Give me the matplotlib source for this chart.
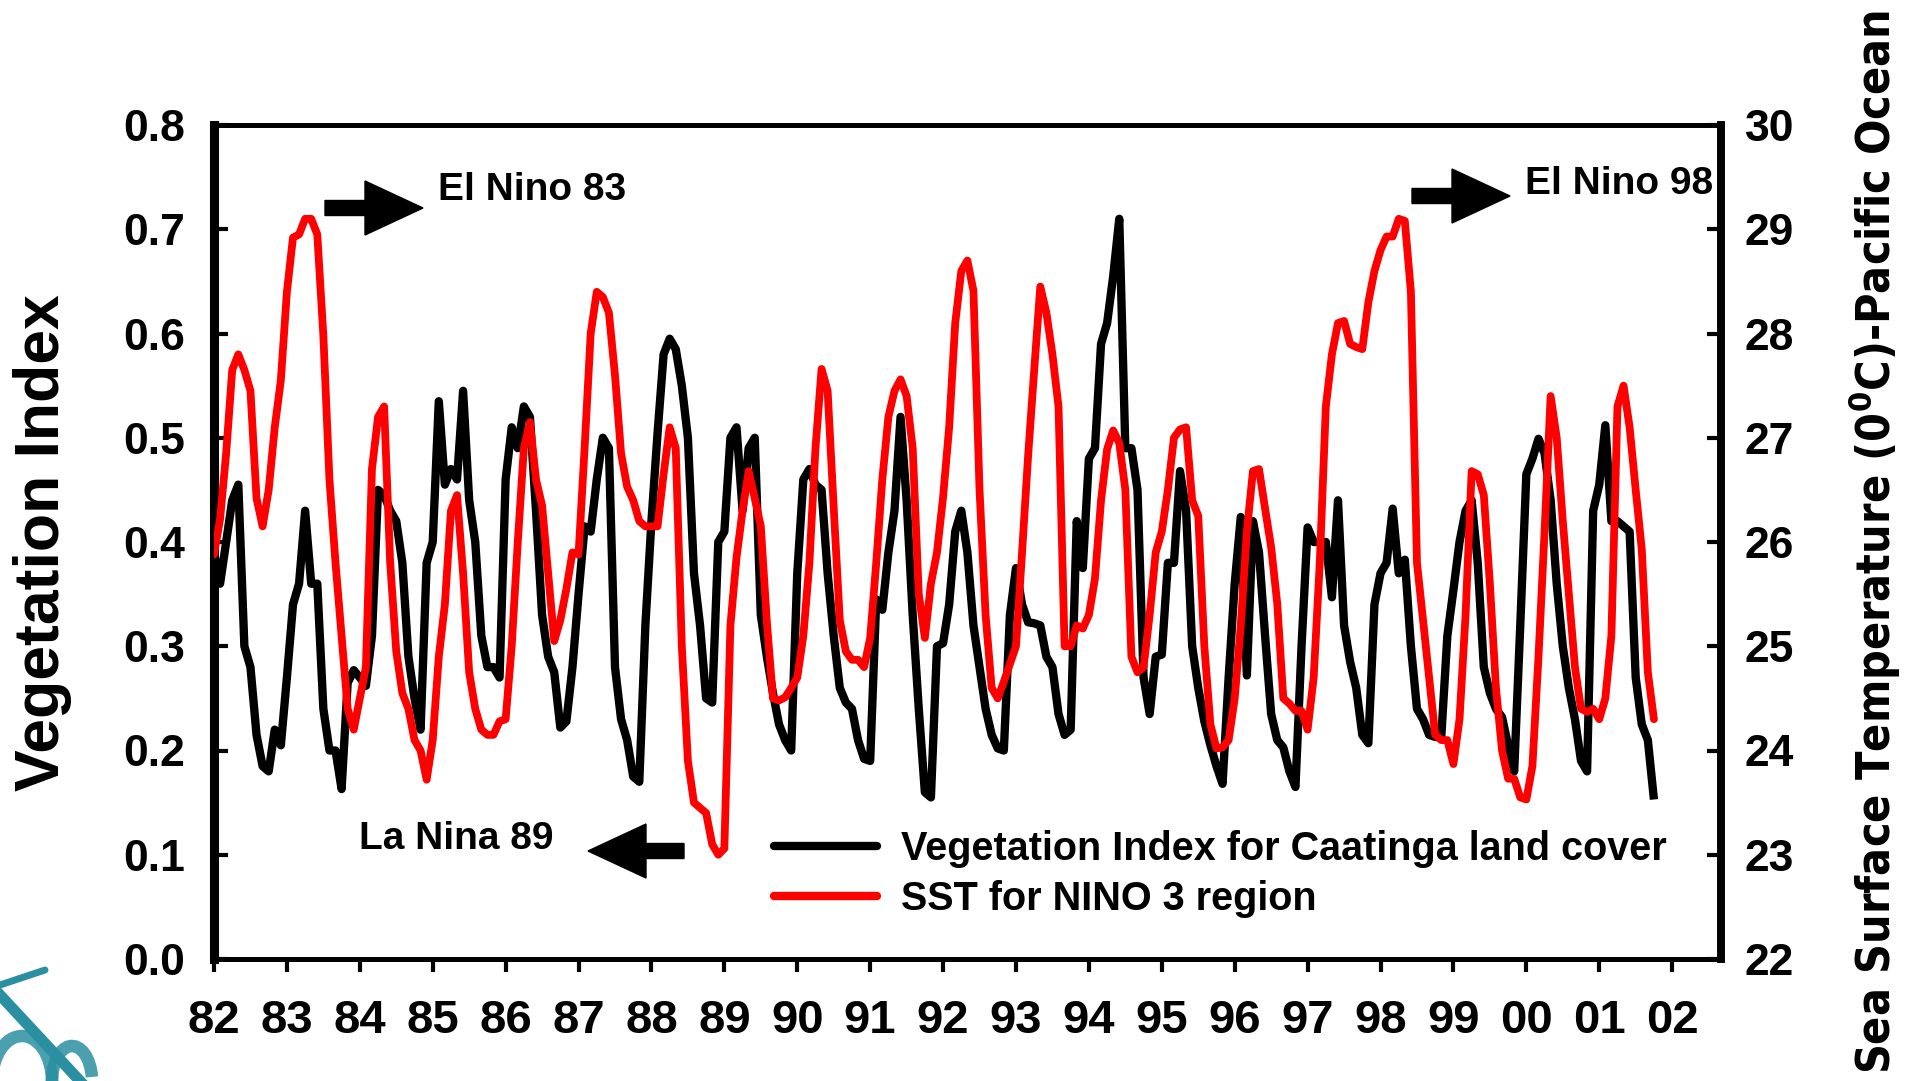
import matplotlib
matplotlib.use("Agg")
import matplotlib.pyplot as plt
from matplotlib import font_manager as fm
from matplotlib.patches import FancyArrow, Arc
import numpy as np

# monthly values, Jan 1982 onward
ndvi = [0.39, 0.36, 0.40, 0.44, 0.455, 0.30, 0.28, 0.215, 0.185, 0.18, 0.22, 0.205,
        0.27, 0.34, 0.36, 0.43, 0.36, 0.36, 0.24, 0.20, 0.20, 0.163, 0.265, 0.277,
        0.27, 0.262, 0.31, 0.45, 0.445, 0.43, 0.42, 0.38, 0.29, 0.25, 0.22, 0.38,
        0.40, 0.535, 0.455, 0.47, 0.46, 0.545, 0.44, 0.40, 0.31, 0.28, 0.28, 0.27,
        0.46, 0.51, 0.49, 0.53, 0.52, 0.43, 0.33, 0.29, 0.275, 0.222, 0.228, 0.28,
        0.35, 0.415, 0.41, 0.46, 0.50, 0.49, 0.28, 0.23, 0.21, 0.175, 0.17, 0.32,
        0.42, 0.504, 0.58, 0.595, 0.585, 0.55, 0.50, 0.37, 0.32, 0.25, 0.246, 0.40,
        0.41, 0.50, 0.51, 0.43, 0.49, 0.50, 0.33, 0.29, 0.255, 0.225, 0.21, 0.20,
        0.37, 0.46, 0.47, 0.455, 0.45, 0.37, 0.31, 0.26, 0.246, 0.24, 0.21, 0.192,
        0.19, 0.345, 0.335, 0.39, 0.43, 0.52, 0.44, 0.33, 0.24, 0.16, 0.155, 0.30,
        0.303, 0.34, 0.41, 0.43, 0.39, 0.32, 0.28, 0.24, 0.215, 0.202, 0.20, 0.33,
        0.375, 0.34, 0.323, 0.322, 0.32, 0.29, 0.28, 0.235, 0.215, 0.22, 0.42, 0.375,
        0.48, 0.49, 0.59, 0.61, 0.655, 0.71, 0.49, 0.49, 0.45, 0.27, 0.235, 0.29,
        0.292, 0.38, 0.38, 0.468, 0.43, 0.30, 0.26, 0.228, 0.205, 0.185, 0.168, 0.27,
        0.36, 0.424, 0.272, 0.42, 0.39, 0.31, 0.235, 0.21, 0.203, 0.18, 0.165, 0.30,
        0.414, 0.40, 0.40, 0.40, 0.347, 0.44, 0.32, 0.285, 0.26, 0.215, 0.207, 0.34,
        0.37, 0.38, 0.432, 0.37, 0.383, 0.30, 0.24, 0.23, 0.215, 0.213, 0.213, 0.31,
        0.354, 0.40, 0.43, 0.44, 0.38, 0.28, 0.255, 0.24, 0.232, 0.205, 0.18, 0.32,
        0.465, 0.48, 0.499, 0.485, 0.44, 0.36, 0.30, 0.26, 0.23, 0.19, 0.18, 0.43,
        0.455, 0.512, 0.42, 0.42, 0.415, 0.41, 0.27, 0.225, 0.21, 0.153]

sst = [25.88, 26.22, 26.85, 27.65, 27.8, 27.65, 27.45, 26.42, 26.15, 26.5, 27.1, 27.55,
       28.4, 28.92, 28.95, 29.1, 29.1, 28.95, 27.98, 26.6, 25.8, 25.1, 24.4, 24.2,
       24.5, 24.8, 26.7, 27.2, 27.3, 25.8, 24.95, 24.55, 24.4, 24.1, 24.0, 23.72,
       24.1, 24.9, 25.4, 26.3, 26.45, 25.7, 24.75, 24.4, 24.2, 24.15, 24.15, 24.28,
       24.3, 25.0, 26.0, 26.9, 27.15, 26.6, 26.35, 25.7, 25.05, 25.25, 25.55, 25.9,
       25.88, 26.9, 28.0, 28.4, 28.35, 28.2, 27.6, 26.85, 26.53, 26.4, 26.2, 26.15,
       26.15, 26.15, 26.65, 27.1, 26.9, 25.0, 23.9, 23.5, 23.45, 23.4, 23.1, 23.0,
       23.06, 25.2, 25.85, 26.3, 26.68, 26.42, 26.15, 25.23, 24.5, 24.48, 24.51, 24.6,
       24.7, 25.1, 25.8, 26.9, 27.66, 27.45, 26.33, 25.25, 24.95, 24.87, 24.87, 24.8,
       25.08, 25.8, 26.6, 27.2, 27.45, 27.56, 27.4, 26.9, 25.5, 25.08, 25.6, 25.9,
       26.43, 27.1, 28.1, 28.6, 28.7, 28.41, 26.5, 25.3, 24.6, 24.5, 24.66, 24.83,
       25.0, 25.9, 26.83, 27.65, 28.45, 28.2, 27.8, 27.3, 25.0, 25.0, 25.2, 25.17,
       25.3, 25.65, 26.4, 26.89, 27.07, 26.95, 26.5, 24.9, 24.75, 24.8, 25.3, 25.9,
       26.1, 26.5, 27.0, 27.08, 27.1, 26.4, 26.25, 25.0, 24.25, 24.02, 24.03, 24.1,
       24.5, 25.2, 26.1, 26.68, 26.7, 26.32, 25.95, 25.41, 24.5, 24.45, 24.38, 24.38,
       24.2, 24.7, 25.8, 27.3, 27.8, 28.1, 28.12, 27.9, 27.87, 27.85, 28.3, 28.6,
       28.8, 28.93, 28.93, 29.1, 29.08, 28.4, 25.8, 25.25, 24.7, 24.15, 24.1, 24.1,
       23.87, 24.3, 25.3, 26.68, 26.65, 26.45, 25.6, 24.6, 24.0, 23.73, 23.73, 23.55,
       23.53, 23.85, 24.9, 26.1, 27.4, 27.0, 26.2, 25.5, 24.8, 24.4, 24.37, 24.4,
       24.3, 24.5, 25.1, 27.3, 27.5, 27.1, 26.5, 25.93, 24.75, 24.3]

years = list(range(1982, 2003))
year_labels = ["%02d" % (y % 100) for y in years]
ndvi_ticks = [0.0, 0.1, 0.2, 0.3, 0.4, 0.5, 0.6, 0.7, 0.8]
sst_ticks = [22, 23, 24, 25, 26, 27, 28, 29, 30]

plt.rcParams['font.family'] = ['Liberation Sans', 'DejaVu Sans']
plt.rcParams['font.weight'] = 'bold'
plt.rcParams['mathtext.default'] = 'regular'


def narrow_bold():
    # look for a condensed bold sans face, else plain Liberation Sans bold
    best = None
    for f in fm.fontManager.ttflist:
        w = f.weight if isinstance(f.weight, int) else fm.weight_dict.get(f.weight, 400)
        narrow = ('Narrow' in f.name or 'Condensed' in f.name
                  or f.stretch in ('condensed', 'semi-condensed', 'extra-condensed'))
        if narrow and w >= 600 and f.style == 'normal':
            rank = 0 if 'Liberation' in f.name else (1 if 'Arial' in f.name else 2)
            if best is None or rank < best[0]:
                best = (rank, f.fname)
    if best:
        return fm.FontProperties(fname=best[1])
    return fm.FontProperties(family='Liberation Sans', weight='bold')


W, H = 1921, 1081
fig = plt.figure(figsize=(W / 100, H / 100), dpi=100)
ax = fig.add_axes([214 / W, 1 - 959 / H, (1721 - 214) / W, (959 - 125) / H])
ax2 = ax.twinx()

t = 1982 + np.arange(len(ndvi)) / 12.0
l1, = ax.plot(t, ndvi, color='black', lw=6, solid_joinstyle='round',
              solid_capstyle='butt',
              label='Vegetation Index for Caatinga land cover', zorder=3)
l2, = ax2.plot(t, sst, color='#ff0000', lw=5.6, solid_joinstyle='round',
               solid_capstyle='round', label='SST for NINO 3 region', zorder=3)

ax.set_xlim(1982, 2002.67)
ax.set_ylim(0, 0.8)
ax2.set_ylim(22, 30)

ax.set_xticks(years)
ax.set_xticklabels(year_labels, fontsize=34, fontweight='bold')
ax.set_yticks(ndvi_ticks)
ax.set_yticklabels(["%.1f" % v for v in ndvi_ticks], fontsize=32, fontweight='bold')
ax2.set_yticks(sst_ticks)
ax2.set_yticklabels([str(v) for v in sst_ticks], fontsize=32, fontweight='bold')

ax.tick_params(axis='x', direction='out', length=9, width=3, pad=20)
ax.tick_params(axis='y', direction='in', length=10, width=3, pad=21)
ax2.tick_params(axis='y', direction='in', length=10, width=3, pad=17)

for a in (ax, ax2):
    a.spines['top'].set_linewidth(3.5)
    a.spines['bottom'].set_linewidth(3.5)
    a.spines['left'].set_linewidth(6.5)
    a.spines['right'].set_linewidth(5.5)


def fx(x):
    return x / W


def fy(y):
    return 1 - y / H


fig.text(fx(43), fy(543), 'Vegetation Index', fontsize=45, fontweight='bold',
         rotation=90, ha='center', va='center')

rp = narrow_bold()
rp.set_size(40)
rlab = fig.text(fx(1874), fy(542), 'Sea Surface Temperature (0$^0$C)-Pacific Ocean',
                fontproperties=rp, rotation=90, ha='center', va='center')
fig.canvas.draw()
ext = rlab.get_window_extent(fig.canvas.get_renderer())
rp.set_size(40 * 1062 / ext.height)
rlab.set_fontproperties(rp)

leg = ax2.legend([l1, l2], [l1.get_label(), l2.get_label()],
                 loc='center left', bbox_to_anchor=(fx(774), fy(874)),
                 bbox_transform=fig.transFigure, borderpad=0, borderaxespad=0,
                 frameon=False, handlelength=2.6, handletextpad=0.62,
                 labelspacing=0.3, prop={'size': 28.5, 'weight': 'bold'})
for h in leg.legend_handles:
    h.set_linewidth(6)
    h.set_solid_capstyle('round')

# annotations
fig.text(fx(438), fy(190), 'El Nino 83', fontsize=28, fontweight='bold', va='center')
fig.text(fx(1525), fy(184), 'El Nino 98', fontsize=28, fontweight='bold', va='center')
fig.text(fx(359), fy(839), 'La Nina 89', fontsize=28, fontweight='bold', va='center')

for x0, x1, y in [(325, 423, 208), (1412, 1510, 196), (684, 588, 851)]:
    arr = FancyArrow(fx(x0), fy(y), fx(x1) - fx(x0), 0, width=15 / H,
                     head_width=54 / H, head_length=58 / W,
                     length_includes_head=True, color='black',
                     transform=fig.transFigure)
    fig.add_artist(arr)

# corner logo fragment (graphic only)
teal = '#2a8fa0'
fig.add_artist(plt.Line2D([fx(0), fx(45)], [fy(985), fy(970)], color=teal, lw=5,
                          solid_capstyle='round', transform=fig.transFigure))
fig.add_artist(plt.Line2D([fx(0), fx(80)], [fy(995), fy(1081)], color=teal, lw=8,
                          transform=fig.transFigure))
fig.add_artist(Arc((fx(22), fy(1081)), 60 / W, 90 / H, theta1=0, theta2=180,
                   color=teal, lw=9, alpha=0.85, transform=fig.transFigure))
fig.add_artist(Arc((fx(72), fy(1081)), 40 / W, 70 / H, theta1=20, theta2=200,
                   color=teal, lw=9, alpha=0.85, transform=fig.transFigure))

fig.savefig('out.png', dpi=100)
